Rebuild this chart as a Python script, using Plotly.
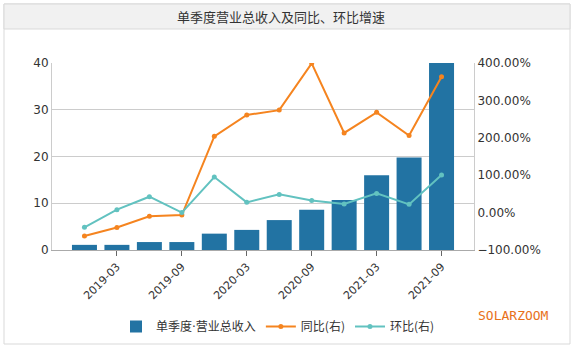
import plotly.graph_objects as go

categories = ["2018-12", "2019-03", "2019-06", "2019-09", "2019-12", "2020-03",
              "2020-06", "2020-09", "2020-12", "2021-03", "2021-06", "2021-09"]
revenue = [1.1, 1.1, 1.7, 1.7, 3.5, 4.3, 6.4, 8.6, 10.7, 16.0, 19.8, 40.0]
yoy = [-62.6, -40.0, -10.0, -6.5, 204.0, 261.0, 274.0, 399.0, 213.0, 268.0, 206.0, 363.0]
qoq = [-39.5, 7.8, 42.5, 0.0, 95.0, 27.4, 48.7, 32.6, 23.0, 51.3, 22.0, 100.8]
tick_labels = ["2019-03", "2019-09", "2020-03", "2020-09", "2021-03", "2021-09"]

W, H = 575, 350
L, R, T, B = 52, 474, 63, 250

def px(x):
    return (x - L) / (R - L)

def py(y):
    return (B - y) / (B - T)

BAR = "#2273a3"
ORANGE = "#f5841f"
TEAL = "#62c2c0"
FONT = "DejaVu Sans, Noto Sans CJK SC"

fig = go.Figure()
fig.add_trace(go.Bar(x=categories, y=revenue,
                     name='单季度<span style="font-family:DejaVu Sans">·</span>营业总收入',
                     marker=dict(color=BAR, line=dict(width=0)), yaxis="y"))
fig.add_trace(go.Scatter(x=categories, y=yoy, name="同比(右)", mode="lines+markers",
                         line=dict(color=ORANGE, width=2), marker=dict(size=5, color=ORANGE),
                         yaxis="y2"))
fig.add_trace(go.Scatter(x=categories, y=qoq, name="环比(右)", mode="lines+markers",
                         line=dict(color=TEAL, width=2), marker=dict(size=5, color=TEAL),
                         yaxis="y2"))

shapes = [
    dict(type="rect", xref="paper", yref="paper", x0=px(4), x1=px(570), y0=py(344), y1=py(4),
         line=dict(color="#d9d9d9", width=1), fillcolor="rgba(0,0,0,0)", layer="below"),
    dict(type="rect", xref="paper", yref="paper", x0=px(4), x1=px(570), y0=py(29), y1=py(4),
         line=dict(color="#d9d9d9", width=1), fillcolor="#f1f1f1", layer="below"),
]

annotations = [
    dict(text="单季度营业总收入及同比、环比增速", xref="paper", yref="paper",
         x=px(281), y=py(17), showarrow=False, xanchor="center", yanchor="middle",
         font=dict(family="Noto Sans CJK SC", size=13, color="#333333")),
    dict(text="SOLARZOOM", xref="paper", yref="paper", x=px(513), y=py(315),
         showarrow=False, xanchor="center", yanchor="middle",
         font=dict(family="DejaVu Sans Mono", size=13, color="#e8711a")),
]

fig.update_layout(
    width=W, height=H,
    margin=dict(l=L, r=W - R, t=T, b=H - B, pad=0, autoexpand=False),
    paper_bgcolor="white", plot_bgcolor="white",
    font=dict(family=FONT, size=12, color="#333333"),
    bargap=0.23,
    showlegend=True,
    legend=dict(orientation="h", xref="container", yref="container",
                x=116 / W, y=(H - 312) / H, xanchor="left", yanchor="top",
                font=dict(family="Noto Sans CJK SC", size=12, color="#333333"),
                bgcolor="rgba(0,0,0,0)", itemwidth=30, tracegroupgap=0),
    xaxis=dict(type="category", categoryorder="array", categoryarray=categories,
               range=[-1, 12], tickmode="array", tickvals=tick_labels, ticktext=tick_labels,
               tickangle=-45, ticks="outside", ticklen=5, tickcolor="#666666",
               showline=True, linecolor="#aaaaaa", showgrid=False,
               tickfont=dict(family=FONT, size=11, color="#333333")),
    yaxis=dict(range=[0, 40], dtick=10, showgrid=True, gridcolor="#cccccc",
               showline=True, linecolor="#cccccc", zeroline=False,
               ticks="", tickfont=dict(family=FONT, size=12, color="#333333")),
    yaxis2=dict(range=[-100, 400], dtick=100, overlaying="y", side="right",
                showgrid=False, zeroline=False, showline=True, linecolor="#cccccc",
                tickformat=".2f", ticksuffix="%",
                tickfont=dict(family=FONT, size=12, color="#333333")),
    shapes=shapes,
    annotations=annotations,
)

fig.write_html("out.html")
